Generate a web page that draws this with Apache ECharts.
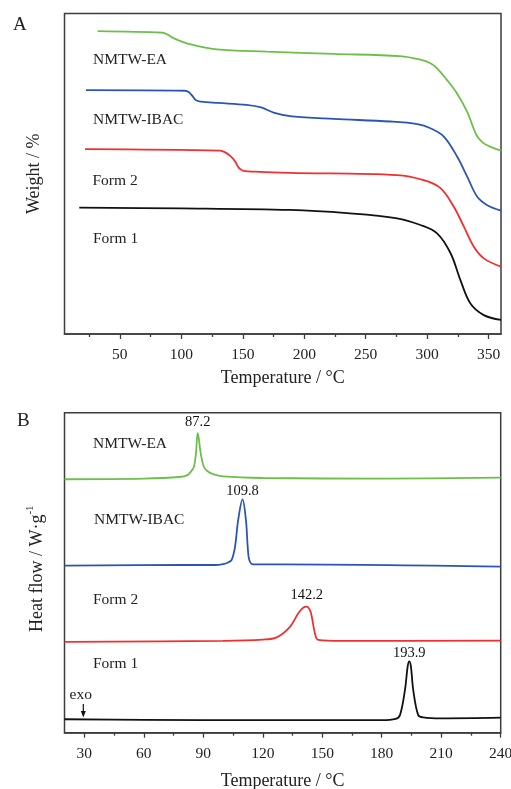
<!DOCTYPE html>
<html>
<head>
<meta charset="utf-8">
<script src="https://cdn.jsdelivr.net/npm/echarts@6/dist/echarts.min.js"></script>
<style>
  html, body { margin: 0; padding: 0; background: #fff; }
  #chart { width: 511px; height: 789px; }
</style>
</head>
<body>
<div id="chart"></div>
<script>
// ---- Panel A: TGA curves (temperature in °C, weight in stacked relative units) ----
const tgaEA_T   = [32, 85, 89, 93.6, 104.5, 128.9, 169.7, 223.7, 278, 294.5, 302.6, 308, 316, 324, 332.5, 340, 345, 351.5, 360];
const tgaEA_W   = [94.5, 94.0, 93.4, 92.3, 90.7, 88.8, 88.1, 87.4, 86.7, 85.6, 84.5, 82.9, 79.3, 75.2, 69.3, 62.1, 59.8, 58.4, 57.2];

const tgaIBAC_T = [22.5, 103, 106, 109, 112, 116, 130, 153, 165, 175, 190, 224, 270, 292, 302.6, 313.5, 324.4, 332.5, 340.7, 348.8, 360];
const tgaIBAC_W = [76.1, 75.9, 75.5, 74.3, 72.9, 72.5, 72.1, 71.5, 70.7, 69.1, 67.9, 67.1, 66.3, 65.5, 64.2, 61.6, 55.3, 49.1, 42.8, 40.2, 38.5];

const tgaF2_T   = [21.7, 131.6, 136, 140, 143.5, 146.5, 150, 164, 188.6, 275.5, 297.2, 310.8, 321.6, 329.8, 337.9, 346, 360];
const tgaF2_W   = [57.7, 57.2, 56.6, 55.5, 54.0, 52.0, 51.0, 50.6, 50.3, 49.6, 48.0, 45.5, 39.7, 33.5, 27.2, 23.6, 21.0];

const tgaF1_T   = [17, 100, 188.6, 234.8, 275.5, 294.5, 308, 319, 327, 335, 346, 360];
const tgaF1_W   = [39.4, 39.2, 38.7, 37.7, 36.1, 34.0, 31.4, 25.2, 16.8, 9.6, 5.9, 4.4];

// ---- Panel B: DSC curves (temperature in °C, heat flow in stacked relative units) ----
const dscEA_T   = [20, 60, 78, 82, 84, 85.3, 86.3, 87.2, 88.7, 90.3, 92, 95, 100, 120, 180, 240];
const dscEA_H   = [79.2, 79.4, 79.9, 80.5, 81.8, 83.1, 87.3, 93.7, 87.3, 83.1, 81.8, 80.8, 80.1, 79.6, 79.4, 79.7];

const dscIBAC_T = [20, 80, 96, 100, 102.5, 104.3, 106, 107.6, 109.8, 111.5, 112.4, 113.2, 115.2, 130, 240];
const dscIBAC_H = [52.2, 52.4, 52.4, 52.7, 53.2, 54.0, 58.1, 66.5, 72.9, 66.5, 58.1, 54.0, 52.6, 52.6, 51.9];

const dscF2_T   = [20, 100, 120, 127, 133.7, 137.9, 140.5, 142.2, 143.8, 144.7, 146.3, 148, 160, 240];
const dscF2_H   = [28.4, 28.7, 29.1, 29.8, 33.1, 37.3, 39.1, 39.4, 38.3, 36.3, 31.1, 29.0, 28.7, 28.8];

const dscF1_T   = [20, 60, 120, 180, 187, 189.2, 191.7, 193.1, 193.9, 194.7, 195.9, 198.4, 200.9, 210, 240];
const dscF1_H   = [4.2, 4.0, 3.9, 3.9, 4.3, 5.5, 13.3, 20.8, 22.3, 20.8, 13.3, 5.5, 4.8, 4.5, 4.7];

// Melting peak temperatures (°C)
const peakTemps = [87.2, 109.8, 142.2, 193.9];

// Axis ticks
const tgaMajorTicks = [50, 100, 150, 200, 250, 300, 350];
const tgaMinorTicks = [25, 75, 125, 175, 225, 275, 325];
const dscMajorTicks = [30, 60, 90, 120, 150, 180, 210, 240];
const dscMinorTicks = [45, 75, 105, 135, 165, 195, 225];

const sampleNames = ['NMTW-EA', 'NMTW-IBAC', 'Form 2', 'Form 1'];
const colors = ['#6cc04a', '#2b55b5', '#f0302e', '#111111'];

const FONT = "'Liberation Serif', 'Times New Roman', serif";
const FRAME = '#3c3c3c';

function pairs(xs, ys) { return xs.map((x, i) => [x, ys[i]]); }

// Peak marker: the curve point at the melting temperature, labelled with that temperature
function peakPoint(xs, ys, peak) {
  const i = xs.indexOf(peak);
  return [[xs[i], ys[i]]];
}

const chart = echarts.init(document.getElementById('chart'), null, { renderer: 'canvas' });

function majorAxis(gridIndex, min, max, ticks, name, nameGap) {
  return {
    type: 'value', gridIndex, min, max, position: 'bottom',
    axisLine: { show: true, onZero: false, lineStyle: { color: FRAME, width: 1.5 } },
    axisTick: { show: true, inside: false, length: 5, customValues: ticks, lineStyle: { color: FRAME, width: 1.3 } },
    axisLabel: { show: true, customValues: ticks, margin: 13, fontFamily: FONT, fontSize: 15.5, color: '#222', hideOverlap: false },
    splitLine: { show: false },
    name, nameLocation: 'middle', nameGap,
    nameTextStyle: { fontFamily: FONT, fontSize: 18, color: '#222' }
  };
}
function minorAxis(gridIndex, min, max, ticks) {
  return {
    type: 'value', gridIndex, min, max, position: 'bottom',
    axisLine: { show: false, onZero: false },
    axisTick: { show: true, inside: false, length: 3, customValues: ticks, lineStyle: { color: FRAME, width: 1.3 } },
    axisLabel: { show: false },
    splitLine: { show: false }
  };
}

function lineSeries(xIdx, yIdx, data, color) {
  return {
    type: 'line', xAxisIndex: xIdx, yAxisIndex: yIdx, data,
    smooth: 0.35, showSymbol: false, symbol: 'none',
    lineStyle: { color, width: 1.8 }, animation: false, silent: true, z: 3
  };
}

// Scatter with a transparent symbol that only carries the peak temperature label
function peakLabelSeries(xIdx, yIdx, xs, ys, peak, dist) {
  return {
    type: 'scatter', xAxisIndex: xIdx, yAxisIndex: yIdx,
    data: peakPoint(xs, ys, peak),
    symbol: 'circle', symbolSize: 2,
    itemStyle: { color: 'rgba(0,0,0,0)' },
    label: {
      show: true, position: 'top', distance: dist,
      formatter: () => peak.toFixed(1),
      fontFamily: FONT, fontSize: 14.5, color: '#111', opacity: 1
    },
    labelLayout: { hideOverlap: false },
    animation: false, silent: true, z: 4
  };
}

function textEl(x, y, text, size, align) {
  return {
    type: 'text', x, y, silent: true,
    style: { text, fontFamily: FONT, fontSize: size, fill: '#222', align: align || 'left', verticalAlign: 'middle' }
  };
}

const gridBase = { show: true, borderColor: FRAME, borderWidth: 1.5, backgroundColor: 'transparent', containLabel: false, outerBoundsMode: 'none' };

const option = {
  backgroundColor: '#fff',
  animation: false,
  grid: [
    Object.assign({ left: 64.5, top: 13.5, width: 436.5, height: 320.5 }, gridBase),
    Object.assign({ left: 64.5, top: 412.7, width: 436.2, height: 320 }, gridBase)
  ],
  xAxis: [
    majorAxis(0, 5, 360, tgaMajorTicks, 'Temperature / °C', 35),
    minorAxis(0, 5, 360, tgaMinorTicks),
    majorAxis(1, 20, 240, dscMajorTicks, 'Temperature / °C', 39.5),
    minorAxis(1, 20, 240, dscMinorTicks)
  ],
  yAxis: [
    {
      type: 'value', gridIndex: 0, min: 0, max: 100,
      axisLine: { show: false }, axisTick: { show: false }, axisLabel: { show: false }, splitLine: { show: false },
      name: 'Weight / %', nameLocation: 'middle', nameGap: 21,
      nameTextStyle: { fontFamily: FONT, fontSize: 18, color: '#222' }
    },
    {
      type: 'value', gridIndex: 1, min: 0, max: 100,
      axisLine: { show: false }, axisTick: { show: false }, axisLabel: { show: false }, splitLine: { show: false },
      name: '{a|Heat flow / W·g}{s|-1}', nameLocation: 'middle', nameGap: 18,
      nameTextStyle: {
        fontFamily: FONT, fontSize: 18, color: '#222', padding: [0, 0, 0, 8],
        rich: {
          a: { fontFamily: FONT, fontSize: 18, color: '#222', lineHeight: 22, verticalAlign: 'bottom' },
          s: { fontFamily: FONT, fontSize: 11, color: '#222', lineHeight: 22, verticalAlign: 'top' }
        }
      }
    }
  ],
  series: [
    lineSeries(0, 0, pairs(tgaEA_T, tgaEA_W), colors[0]),
    lineSeries(0, 0, pairs(tgaIBAC_T, tgaIBAC_W), colors[1]),
    lineSeries(0, 0, pairs(tgaF2_T, tgaF2_W), colors[2]),
    lineSeries(0, 0, pairs(tgaF1_T, tgaF1_W), colors[3]),
    lineSeries(2, 1, pairs(dscEA_T, dscEA_H), colors[0]),
    lineSeries(2, 1, pairs(dscIBAC_T, dscIBAC_H), colors[1]),
    lineSeries(2, 1, pairs(dscF2_T, dscF2_H), colors[2]),
    lineSeries(2, 1, pairs(dscF1_T, dscF1_H), colors[3]),
    peakLabelSeries(2, 1, dscEA_T, dscEA_H, peakTemps[0], 2),
    peakLabelSeries(2, 1, dscIBAC_T, dscIBAC_H, peakTemps[1], 0),
    peakLabelSeries(2, 1, dscF2_T, dscF2_H, peakTemps[2], 3),
    peakLabelSeries(2, 1, dscF1_T, dscF1_H, peakTemps[3], 0)
  ],
  graphic: [
    textEl(13, 25, 'A', 19),
    textEl(17, 421.5, 'B', 19),
    // sample names, panel A
    textEl(93, 60, sampleNames[0], 15.5),
    textEl(93, 120, sampleNames[1], 15.5),
    textEl(92.5, 181, sampleNames[2], 15.5),
    textEl(93, 238.5, sampleNames[3], 15.5),
    // sample names, panel B
    textEl(93, 443.5, sampleNames[0], 15.5),
    textEl(94, 520, sampleNames[1], 15.5),
    textEl(93, 600, sampleNames[2], 15.5),
    textEl(93, 664, sampleNames[3], 15.5),
    // exothermic direction marker
    textEl(69.5, 694.5, 'exo', 15.5),
    {
      type: 'line', silent: true,
      shape: { x1: 83.3, y1: 704, x2: 83.3, y2: 713 },
      style: { stroke: '#111', lineWidth: 1.2 }
    },
    {
      type: 'polygon', silent: true,
      shape: { points: [[80.8, 711], [85.8, 711], [83.3, 717.5]] },
      style: { fill: '#111' }
    }
  ]
};

chart.setOption(option);
</script>
</body>
</html>
